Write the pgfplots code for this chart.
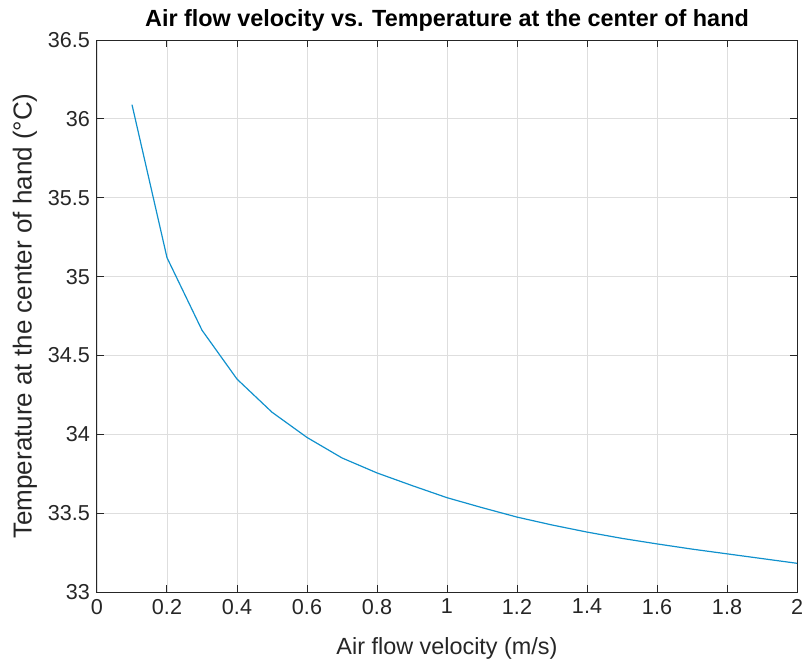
\documentclass[border=0pt]{standalone}
\usepackage{pgfplots}
\pgfplotsset{compat=1.18}
\usepackage{fontspec}
\setmainfont{Liberation Sans}
\definecolor{mline}{RGB}{16,145,205}
\definecolor{axgray}{RGB}{38,38,38}
\begin{document}
\begin{tikzpicture}
\useasboundingbox (-48.5pt,-33.5pt) rectangle (355.5pt,296pt);
\begin{axis}[
  at={(0,0)}, anchor=south west,
  scale only axis, width=350pt, height=276pt,
  xmin=0, xmax=2, ymin=33, ymax=36.5,
  xtick={0,0.2,...,2.01}, ytick={33,33.5,...,36.51},
  xticklabels={0,0.2,0.4,0.6,0.8,1,1.2,1.4,1.6,1.8,2},
  yticklabels={33,33.5,34,34.5,35,35.5,36,36.5},
  grid=major,
  major grid style={color=black!13, line width=0.4pt},
  axis line style={color=axgray, line width=0.5pt},
  tick style={color=axgray, line width=0.5pt},
  tick align=inside, major tick length=3.5pt,
  ticklabel style={font=\fontsize{10.8}{12}\selectfont, text=axgray},
  /pgf/number format/assume math mode=true,
  title={Air flow velocity vs. Temperature at the center of hand},
  title style={font=\bfseries\fontsize{11.7}{13}\selectfont, at={(axis description cs:0.5,1.0145)}, anchor=center, yshift=0pt, text=black},
  xlabel={Air flow velocity (m/s)},
  xlabel style={font=\fontsize{11.7}{13}\selectfont, at={(axis description cs:0.5,-0.1014)}, anchor=center, text=axgray},
  ylabel={Temperature at the center of hand (°C)},
  ylabel style={font=\fontsize{13}{14}\selectfont, at={(axis description cs:-0.1029,0.5)}, anchor=center, text=axgray},
]
\addplot[color=mline, line width=0.6pt] coordinates {
(0.1,36.09) (0.2,35.12) (0.3,34.66) (0.4,34.35) (0.5,34.14)
(0.6,33.98) (0.7,33.85) (0.8,33.755) (0.9,33.675) (1.0,33.598)
(1.1,33.535) (1.2,33.475) (1.3,33.425) (1.4,33.38) (1.5,33.34)
(1.6,33.305) (1.7,33.272) (1.8,33.242) (1.9,33.212) (2.0,33.182)
};
\end{axis}
\end{tikzpicture}
\end{document}
